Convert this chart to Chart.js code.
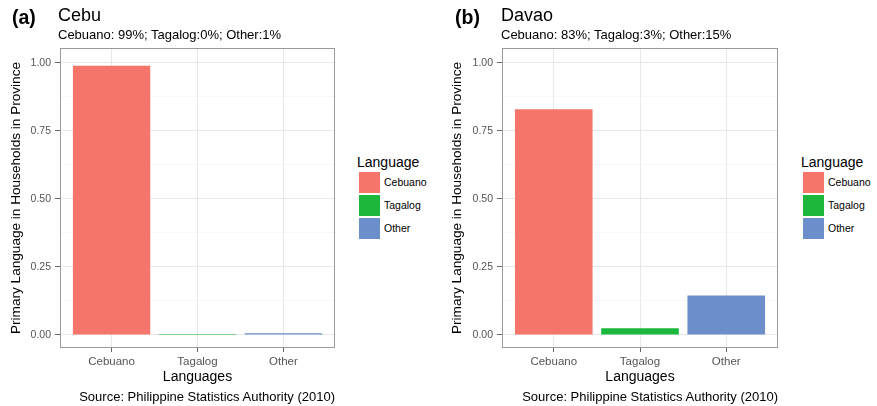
<!DOCTYPE html>
<html><head><meta charset="utf-8">
<script src="https://cdn.jsdelivr.net/npm/chart.js@4"></script>
<style>
body{margin:0;width:877px;height:406px;background:#fff;position:relative;overflow:hidden;font-family:"Liberation Sans",Arial,sans-serif;}
.abs{position:absolute;white-space:nowrap;line-height:1;}
.tag{font-weight:bold;font-size:19.5px;color:#000;}
.prov{font-size:18px;color:#000;}
.sub{font-size:13px;color:#000;}
.cap{font-size:13px;color:#000;text-align:right;}
.legt{font-size:14px;color:#000;}
.key{position:absolute;width:21px;height:21px;}
.keyl{position:absolute;font-size:10.5px;color:#000;line-height:21px;}
canvas{position:absolute;top:0;}
</style></head><body>
<canvas id="c1" width="340" height="406" style="left:0;width:340px;height:406px"></canvas>
<canvas id="c2" width="342" height="406" style="left:440px;width:342px;height:406px"></canvas>
<script>
// ---- data ----
const categories = ['Cebuano', 'Tagalog', 'Other'];
const cebuValues = [0.99, 0.004, 0.006];
const davaoValues = [0.83, 0.025, 0.145];
const yMajorTicks = [0, 0.25, 0.5, 0.75, 1];
const yTickLabels = ['0.00', '0.25', '0.50', '0.75', '1.00'];
const yMinorTicks = [0.125, 0.375, 0.625, 0.875];
const panelTags = ['(a)', '(b)'];
const provinces = ['Cebu', 'Davao'];
const subtitles = ['Cebuano: 99%; Tagalog:0%; Other:1%', 'Cebuano: 83%; Tagalog:3%; Other:15%'];
const caption = 'Source: Philippine Statistics Authority (2010)';
const xTitle = 'Languages';
const yTitle = 'Primary Language in Households in Province';
const legendTitle = 'Language';
const colors = ['#F5756B', '#1DB83B', '#6C8FCC'];

const FONT = '"Liberation Sans", Arial, sans-serif';

const borderPlugin = {
  id: 'panelBorder',
  afterDatasetsDraw(chart) {
    const a = chart.chartArea, ctx = chart.ctx;
    ctx.save();
    ctx.strokeStyle = '#9a9a9a';
    ctx.lineWidth = 1;
    ctx.strokeRect(Math.round(a.left) + 0.5, Math.round(a.top) + 0.5, Math.round(a.right - a.left) - 1, Math.round(a.bottom - a.top) - 1);
    ctx.restore();
  }
};

function isMajor(v) { return yMajorTicks.some(t => Math.abs(t - v) < 1e-9); }

function makeChart(id, values, yWidth, titlePad, rightPad) {
  const data = categories.map((c, i) => ({ x: i + 1, y: values[i] }));
  return new Chart(document.getElementById(id), {
    type: 'bar',
    data: { datasets: [{ data, backgroundColor: colors, borderWidth: 0, barPercentage: 0.9, categoryPercentage: 1.0 }] },
    plugins: [borderPlugin],
    options: {
      responsive: false, animation: false,
      layout: { padding: { top: 48, right: rightPad, left: 0, bottom: 0 } },
      plugins: { legend: { display: false }, tooltip: { enabled: false } },
      scales: {
        x: {
          type: 'linear', min: 0.4, max: 3.6, offset: false,
          afterBuildTicks: s => { s.ticks = categories.map((c, i) => ({ value: i + 1 })); },
          afterFit: s => { s.height = 58; },
          ticks: { autoSkip: false, maxRotation: 0, padding: 3, color: '#555', font: { family: FONT, size: 11.5 },
                   callback: v => categories[Math.round(v) - 1] },
          grid: { offset: false, color: '#E8E8E8', lineWidth: 1, tickLength: 4, tickColor: '#666' },
          border: { display: false },
          title: { display: true, text: xTitle, color: '#000', font: { family: FONT, size: 14 }, padding: { top: 0, bottom: 20.5 } }
        },
        y: {
          type: 'linear', min: -0.0478, max: 1.055,
          afterBuildTicks: s => { s.ticks = yMajorTicks.concat(yMinorTicks).sort((a, b) => a - b).map(v => ({ value: v })); },
          afterFit: s => { s.width = yWidth; },
          ticks: { autoSkip: false, padding: 4, color: '#555', font: { family: FONT, size: 10.5 },
                   callback: v => { const i = yMajorTicks.findIndex(t => Math.abs(t - v) < 1e-9); return i >= 0 ? yTickLabels[i] : ''; } },
          grid: {
            color: c => (c.tick && isMajor(c.tick.value)) ? '#E8E8E8' : '#F4F4F4',
            lineWidth: c => (c.tick && isMajor(c.tick.value)) ? 1 : 0.7,
            tickLength: 5,
            tickColor: c => (c.tick && isMajor(c.tick.value)) ? '#666' : 'rgba(0,0,0,0)'
          },
          border: { display: false },
          title: { display: true, text: yTitle, color: '#000', font: { family: FONT, size: 13.6 }, padding: { top: titlePad, bottom: 0 } }
        }
      }
    }
  });
}

makeChart('c1', cebuValues, 60, 8.5, 5);
makeChart('c2', davaoValues, 62, 9.5, 4);

// ---- HTML text: panel titles, legends, captions ----
function addText(cls, text, left, top) {
  const d = document.createElement('div');
  d.className = 'abs ' + cls;
  d.textContent = text;
  d.style.left = left + 'px';
  d.style.top = top + 'px';
  document.body.appendChild(d);
  return d;
}
const panels = [
  { tagX: 12, provX: 58, legX: 357, capRight: 335 },
  { tagX: 455, provX: 501, legX: 801, capRight: 778 }
];
panels.forEach((p, k) => {
  addText('tag', panelTags[k], p.tagX, 8);
  addText('prov', provinces[k], p.provX, 6);
  addText('sub', subtitles[k], p.provX, 28);
  const cap = addText('cap', caption, 0, 390);
  cap.style.left = 'auto';
  cap.style.right = (877 - p.capRight) + 'px';
  addText('legt', legendTitle, p.legX, 155);
  categories.forEach((c, i) => {
    const key = document.createElement('div');
    key.className = 'key';
    key.style.left = (p.legX + 2) + 'px';
    key.style.top = (172 + i * 23) + 'px';
    key.style.background = colors[i];
    document.body.appendChild(key);
    const l = document.createElement('div');
    l.className = 'keyl';
    l.textContent = c;
    l.style.left = (p.legX + 27) + 'px';
    l.style.top = (172 + i * 23) + 'px';
    document.body.appendChild(l);
  });
});
</script>
</body></html>
